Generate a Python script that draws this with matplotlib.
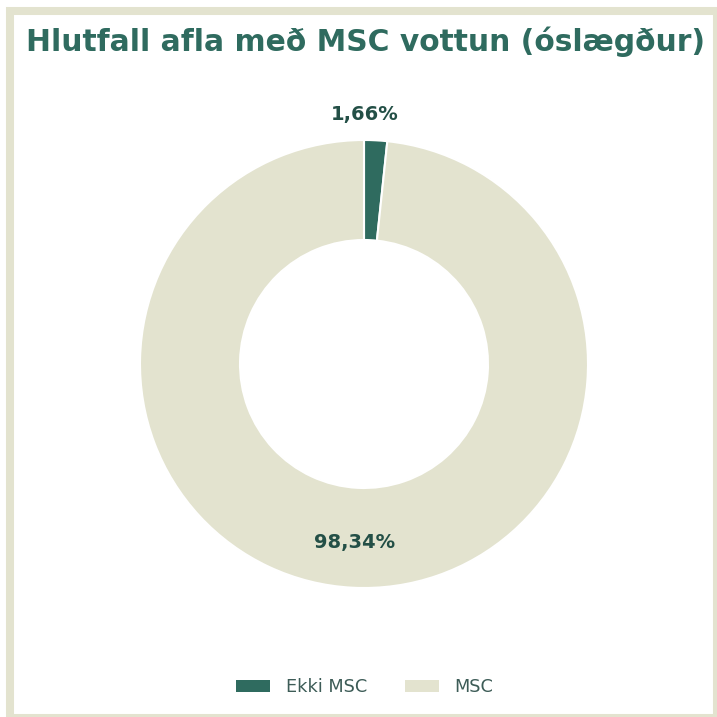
import matplotlib
matplotlib.use("Agg")
import matplotlib.pyplot as plt
from matplotlib.patches import Rectangle
import numpy as np

categories = ["Ekki MSC", "MSC"]
values = [1.66, 98.34]
colors = ["#2f6b5f", "#e3e3cf"]
title = "Hlutfall afla með MSC vottun (óslægður)"

fig = plt.figure(figsize=(7.17, 7.17), dpi=100)
fig.patch.set_facecolor("white")

# frame
fig.add_artist(Rectangle((10/717, -1/717), 707/717, 707/717, transform=fig.transFigure,
                         fill=False, edgecolor="#e3e3cf", linewidth=5.8, zorder=0))

ax = fig.add_axes([0, 0, 1, 1])
R = 224/358.5
cx, cy = (364-358.5)/358.5, (358.5-364)/358.5
wedges, _ = ax.pie(values, colors=colors, startangle=90, counterclock=False, radius=R,
                   center=(cx, cy),
                   wedgeprops=dict(width=100/358.5, edgecolor="white", linewidth=1.5))
ax.set_xlim(-1, 1)
ax.set_ylim(-1, 1)
ax.set_aspect("equal")
ax.axis("off")

def fmt(v):
    return f"{v:.2f}".replace(".", ",") + "%"

total = sum(values)
start = 90
for i, v in enumerate(values):
    ang = start - v/total*360/2
    start -= v/total*360
    if v/total < 0.05:
        r = R*1.115
        x = cx + r*np.cos(np.radians(ang)) - 0.035
    else:
        r = R*0.8
        x = cx + r*np.cos(np.radians(ang))
    y = cy + r*np.sin(np.radians(ang))
    ax.text(x, y, fmt(v), ha="center", va="center", fontsize=14, fontweight="bold",
            color="#234f46")

fig.text(365/717, 1-42/717, title, ha="center", va="center", fontsize=21.4,
         fontweight="bold", color="#2f6b5f")

handles = [Rectangle((0, 0), 1, 1, facecolor=c) for c in colors]
fig.legend(handles, categories, loc="center", bbox_to_anchor=(365/717, 1-687/717),
           ncol=2, frameon=False, fontsize=12.8, labelcolor="#3d5c57",
           handlelength=1.9, handleheight=0.67, handletextpad=0.9, columnspacing=2.1)

fig.savefig("out.png", dpi=100)
